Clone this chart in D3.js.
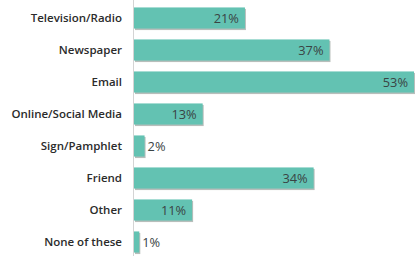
<!DOCTYPE html>
<html>
<head>
<meta charset="utf-8">
<script src="https://cdn.jsdelivr.net/npm/d3@7"></script>
<style>
  body { margin: 0; background: #fff; }
  svg { display: block; }
  .cat { font-family: "Open Sans", "DejaVu Sans", sans-serif; font-size: 11.5px; font-weight: 600; fill: #2b2b2b; }
  .val { font-family: "Open Sans", "DejaVu Sans", sans-serif; font-size: 12.8px; fill: #3a4444; }
</style>
</head>
<body>
<svg id="chart"></svg>
<script>
// Data
const categories = ["Television/Radio", "Newspaper", "Email", "Online/Social Media",
                    "Sign/Pamphlet", "Friend", "Other", "None of these"];
const values = [21, 37, 53, 13, 2, 34, 11, 1];
const valueLabels = ["21%", "37%", "53%", "13%", "2%", "34%", "11%", "1%"];

const w = 417;
const h = 256;
const left = 134;

const chart = d3.select("#chart")
                .attr("width", w)
                .attr("height", h);

const x = d3.scaleLinear()
            .domain([0, 53])
            .range([left, 414]);

const y = d3.scaleBand()
            .domain(categories)
            .range([2, 258])
            .paddingInner(0.34)
            .paddingOuter(0.17);

//Axis line
chart.append("line")
     .attr("x1", left - 0.5)
     .attr("x2", left - 0.5)
     .attr("y1", 0)
     .attr("y2", h)
     .attr("stroke", "#d4d4d4")
     .attr("stroke-width", 1);

//Bars with a small shadow edge
const bars = chart.selectAll(".bar")
                  .data(categories)
                  .enter()
                  .append("g")
                  .classed("bar", true);

bars.append("rect")
    .attr("x", x(0) + 1)
    .attr("y", (d) => y(d) + 1.5)
    .attr("width", (d, i) => x(values[i]) - x(0))
    .attr("height", y.bandwidth())
    .attr("fill", "#9aa39e")
    .attr("opacity", 0.7);

bars.append("rect")
    .attr("x", x(0))
    .attr("y", (d) => y(d))
    .attr("width", (d, i) => x(values[i]) - x(0))
    .attr("height", y.bandwidth())
    .attr("fill", "#63c2b2");

//Category labels
chart.selectAll(".cat")
     .data(categories)
     .enter()
     .append("text")
     .classed("cat", true)
     .attr("x", 122)
     .attr("y", (d) => y(d) + y.bandwidth() / 2)
     .attr("dy", "0.35em")
     .attr("text-anchor", "end")
     .text((d) => d);

//Value labels: inside for long bars, outside for short ones
chart.selectAll(".val")
     .data(categories)
     .enter()
     .append("text")
     .classed("val", true)
     .attr("x", (d, i) => values[i] >= 5 ? x(values[i]) - 6 : x(values[i]) + 3)
     .attr("y", (d) => y(d) + y.bandwidth() / 2)
     .attr("dy", "0.36em")
     .attr("text-anchor", (d, i) => values[i] >= 5 ? "end" : "start")
     .text((d, i) => valueLabels[i]);
</script>
</body>
</html>
